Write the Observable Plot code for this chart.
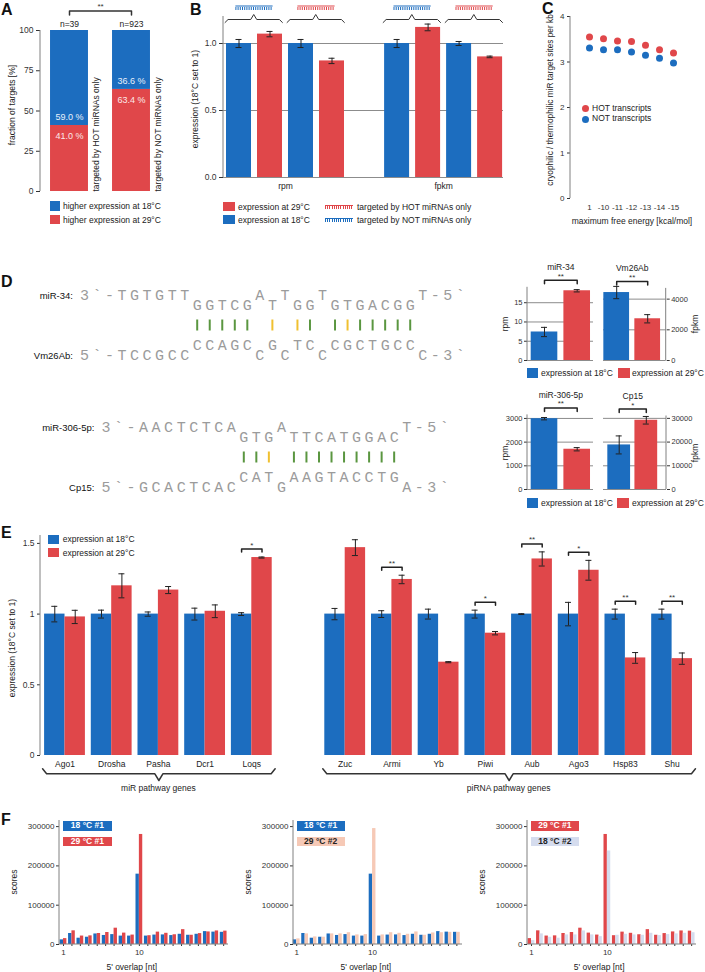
<!DOCTYPE html>
<html>
<head>
<meta charset="utf-8">
<script src="https://cdn.jsdelivr.net/npm/d3@7"></script>
<script src="https://cdn.jsdelivr.net/npm/@observablehq/plot@0.6"></script>
<style>
html,body{margin:0;padding:0;background:#fff;}
#root{position:relative;width:705px;height:972px;overflow:hidden;font-family:"Liberation Sans",Arial,sans-serif;color:#222;background:#fff;}
#root svg{position:absolute;}
</style>
</head>
<body>
<div id="root"></div>
<script>
// ================= DATA =================
// Panel A
const aGroups = ["targeted by HOT miRNAs only", "targeted by NOT miRNAs only"];
const aCounts = ["n=39", "n=923"];
const aPct29 = [41.0, 63.4];
const aPct18 = [59.0, 36.6];
const aTicks = [0, 25, 50, 75, 100];
const aSig = "**";

// Panel B  (order: rpm-NOT, rpm-HOT, fpkm-NOT, fpkm-HOT)
const bMeasures = ["rpm", "fpkm"];
const bTargets = ["NOT", "HOT"];
const bVal18 = [1.00, 1.00, 1.00, 1.00];
const bErr18 = [0.03, 0.03, 0.03, 0.015];
const bVal29 = [1.07, 0.87, 1.12, 0.90];
const bErr29 = [0.02, 0.02, 0.025, 0.006];
const bTicks = [0, 0.5, 1.0];

// Panel C
const cEnergies = ["1", "-10", "-11", "-12", "-13", "-14", "-15"];
const cHot = [3.55, 3.51, 3.46, 3.45, 3.37, 3.27, 3.20];
const cNot = [3.31, 3.27, 3.27, 3.22, 3.15, 3.08, 2.98];
const cTicks = [0, 1, 2, 3, 4];

// Panel D alignments (rows: miRNA upper, miRNA lower, pairing, target upper, target lower)
const dAlign1 = {start: -9, mi: "miR-34:", tg: "Vm26Ab:", rows: [
  "3`-TGTGTT     A T  T       T-5`",
  "         GGTCG T GG GTGACGG    ",
  "         ||||| : :| |:|||||    ",
  "         CCAGC G TC CGCTGCC    ",
  "5`-TCCGCC     C C  C       C-3`"]};
const dAlign2 = {start: -11, mi: "miR-306-5p:", tg: "Cp15:", rows: [
  "3`-AACTCTCA   A         T-5`",
  "           GTG TTCATGGAC    ",
  "           ||: |||||||||    ",
  "           CAT AAGTACCTG    ",
  "5`-GCACTCAC   G         A-3`"]};
// Panel D bar charts
const dGenes = ["miR-34", "Vm26Ab", "miR-306-5p", "Cp15"];
const dUnits = ["rpm", "fpkm", "rpm", "fpkm"];
const d18 = [7.4, 4430, 2990, 18800];
const d18Err = [1.2, 400, 50, 3800];
const d29 = [18.1, 2720, 1700, 29200];
const d29Err = [0.3, 270, 70, 1600];
const dSig = ["**", "**", "**", "*"];
const dTicks = [[0, 5, 10, 15], [0, 2000, 4000], [0, 1000, 2000, 3000], [0, 10000, 20000, 30000]];

// Panel E
const eGenes = ["Ago1", "Drosha", "Pasha", "Dcr1", "Loqs", "Zuc", "Armi", "Yb", "Piwi", "Aub", "Ago3", "Hsp83", "Shu"];
const eGroupOf = [0, 0, 0, 0, 0, 1, 1, 1, 1, 1, 1, 1, 1];
const eGroupNames = ["miR pathway genes", "piRNA pathway genes"];
const e18 = [1, 1, 1, 1, 1, 1, 1, 1, 1, 1, 1, 1, 1];
const e18Err = [0.055, 0.028, 0.015, 0.042, 0.01, 0.04, 0.024, 0.035, 0.028, 0.003, 0.083, 0.035, 0.035];
const e29 = [0.98, 1.20, 1.17, 1.02, 1.40, 1.47, 1.245, 0.66, 0.865, 1.39, 1.31, 0.69, 0.685];
const e29Err = [0.047, 0.085, 0.025, 0.045, 0.004, 0.056, 0.03, 0.004, 0.012, 0.05, 0.07, 0.038, 0.04];
const eSig = ["", "", "", "", "*", "", "**", "", "*", "**", "*", "**", "**"];
const eTicks = [0, 0.5, 1, 1.5];

// Panel F
const fOverlap = [1, 2, 3, 4, 5, 6, 7, 8, 9, 10, 11, 12, 13, 14, 15, 16, 17, 18, 19, 20];
const fLabeled = [1, 10];
const fTicksY = [0, 100000, 200000, 300000];
const f18rep1 = [11800, 28000, 16000, 18500, 26800, 23000, 25200, 21400, 21400, 179000, 21400, 24000, 24400, 22700, 26000, 23500, 26000, 32800, 31500, 31000];
const f29rep1 = [15000, 34800, 21500, 22000, 28000, 30500, 41500, 29000, 24000, 280000, 22400, 31500, 28500, 24800, 37800, 23500, 27800, 32000, 34500, 34000];
const f29rep2 = [14300, 27000, 19300, 18500, 27000, 27000, 30000, 24400, 25200, 295000, 24400, 30000, 28500, 26000, 32000, 23500, 29400, 30000, 31000, 31000];
const f18rep2 = [10000, 27000, 18500, 16000, 24400, 24400, 34500, 24400, 20000, 238000, 23500, 26000, 24400, 23500, 28500, 22700, 25200, 27000, 28500, 30000];

// ================= STYLE / HELPERS =================
const BLUE = "#1c6dbf", RED = "#e0474a", PEACH = "#f6c9b6", LAV = "#d5dcee", PINK = "#f4c6c6";
const GREEN = "#5a9640", YELLOW = "#f0c030";
const AXC = "#808080", GRID = "#8c8c8c", INK = "#222";
const FONT = "'Liberation Sans', Arial, Helvetica, sans-serif";
const root = document.getElementById("root");
const css = (fs) => ({fontFamily: FONT, fontSize: fs + "px", color: "#333", background: "transparent", overflow: "visible"});

function mount(fig, x, y) { fig.style.position = "absolute"; fig.style.left = x + "px"; fig.style.top = y + "px"; fig.style.maxWidth = "none"; root.appendChild(fig); return fig; }
function seg(fig, x1, y1, x2, y2, stroke = AXC) {
  d3.select(fig).append("line").attr("x1", x1).attr("y1", y1).attr("x2", x2).attr("y2", y2)
    .attr("stroke", stroke).attr("stroke-width", 1);
}
function txt(s, x, cy, o = {}) {
  const d = document.createElement("div");
  d.textContent = s;
  const size = o.size || 8.5;
  const tx = o.anchor === "middle" ? "-50%" : o.anchor === "end" ? "-100%" : "0";
  d.style.cssText = `position:absolute;left:${x}px;top:${cy}px;font-size:${size}px;line-height:1;white-space:nowrap;color:${o.color || "#222"};font-weight:${o.weight || "normal"};transform:translate(${tx},-50%)${o.rotate ? " rotate(" + o.rotate + "deg)" : ""};`;
  root.appendChild(d); return d;
}
function box(x, y, w, h, color, text, tcolor) {
  const d = document.createElement("div");
  d.style.cssText = `position:absolute;left:${x}px;top:${y}px;width:${w}px;height:${h}px;background:${color};font-size:8.5px;font-weight:bold;color:${tcolor || "#fff"};text-align:center;line-height:${h}px;white-space:nowrap;`;
  if (text) d.textContent = text;
  root.appendChild(d); return d;
}
function dot(cx, cy, r, color) {
  const d = document.createElement("div");
  d.style.cssText = `position:absolute;left:${cx - r}px;top:${cy - r}px;width:${2 * r}px;height:${2 * r}px;border-radius:50%;background:${color};`;
  root.appendChild(d);
}
function comb(x, y, w, color) {
  const d = document.createElement("div");
  d.style.cssText = `position:absolute;left:${x}px;top:${y}px;width:${w}px;height:3px;border-top:1px solid ${color};background:repeating-linear-gradient(90deg, ${color} 0 1px, transparent 1px 2.2px);`;
  root.appendChild(d);
}
function bracePts(id, x1, x2, y, hook, tip, dx) {
  const m = (x1 + x2) / 2;
  return [[x1, y + hook], [x1 + dx, y], [m - dx, y], [m, y + tip], [m + dx, y], [x2 - dx, y], [x2, y + hook]]
    .map(([x, yy]) => ({id, x, y: yy}));
}

// Panel letters
[["A", 1, 9.5], ["B", 190, 9.5], ["C", 542, 9], ["D", 1, 282], ["E", 1, 532.5], ["F", 1, 819.5]]
  .forEach(([s, x, y]) => txt(s, x, y, {size: 16, weight: "bold", color: "#111"}));

// ================= PANEL A =================
{
  const bars = aGroups.flatMap((g, i) => [
    {g: i, y1: 0, y2: aPct29[i], fill: RED},
    {g: i, y1: aPct29[i], y2: aPct29[i] + aPct18[i], fill: BLUE}]);
  const idx = aGroups.map((g, i) => ({i, g, n: aCounts[i], p18: aPct18[i], p29: aPct29[i]}));
  const upp = 100 / 161;
  const yb = 100 + 19.5 * upp;
  const br = [{x: 0, y: yb - 4 * upp}, {x: 0, y: yb}, {x: 1, y: yb}, {x: 1, y: yb - 4 * upp}];
  const fig = Plot.plot({
    width: 190, height: 240, marginLeft: 40, marginRight: 0, marginTop: 30, marginBottom: 49,
    style: css(8.5),
    x: {type: "linear", domain: [0, 1], range: [69, 131], axis: null},
    y: {domain: [0, 100], range: [191, 30]},
    marks: [
      Plot.rectY(bars, {x1: d => d.g - 0.306, x2: d => d.g + 0.306, y1: "y1", y2: "y2", fill: "fill"}),
      Plot.axisY({ticks: aTicks, tickSize: 4, tickPadding: 3, tickFormat: d => String(d), label: null}),
      Plot.text(idx, {x: "i", y: "p29", dy: -8, text: d => d.p18.toFixed(1) + " %", fill: "#e8f0fb", fontSize: 9}),
      Plot.text(idx, {x: "i", y: "p29", dy: 11, text: d => d.p29.toFixed(1) + " %", fill: "#fbe9e9", fontSize: 9}),
      Plot.text(idx, {x: d => d.i + 0.435, y: 0, text: "g", rotate: -90, textAnchor: "start", fontSize: 8.5, fill: "#222"}),
      Plot.text(idx, {x: "i", y: 100, dy: -6, text: "n", fontSize: 8.5, fill: "#222"}),
      Plot.line(br, {x: "x", y: "y", stroke: "#333"}),
      Plot.text([aSig], {x: (0 + 1) / 2, y: yb, dy: -5, text: d => d, fontSize: 8})
    ]
  });
  mount(fig, 0, 0);
  seg(fig, 40, 30, 40, 191);
  txt("fraction of targets [%]", 12, 105, {anchor: "middle", rotate: -90});
  box(50, 201, 10, 10, BLUE); txt("higher expression at 18°C", 63, 206);
  box(50, 215, 10, 9, RED); txt("higher expression at 29°C", 63, 219.5);
}

// ================= PANEL B =================
{
  const GAP = 5.1, upp = 1 / 134, half = 0.403, cap = 3 / 31;
  const bars = [], braces = [], combs = [];
  bMeasures.forEach((m, mi) => bTargets.forEach((t, ti) => {
    const k = mi * 2 + ti, base = mi * GAP + ti * 2;
    bars.push({slot: base, v: bVal18[k], e: bErr18[k], fill: BLUE});
    bars.push({slot: base + 1, v: bVal29[k], e: bErr29[k], fill: RED});
    braces.push(...bracePts(k, base - 0.45, base + 1.4, 1 + 24 * upp, -3 * upp, 5 * upp, 3 / 31));
    combs.push({x1: base + 0.5 - 0.6, x2: base + 0.5 + 0.6, color: t === "HOT" ? RED : BLUE});
  }));
  const labels = bMeasures.map((m, mi) => ({m, x: mi * GAP + 1.5}));
  const fig = Plot.plot({
    width: 330, height: 195, marginLeft: 43, marginRight: 7, marginTop: 16, marginBottom: 18,
    style: css(8.5),
    x: {type: "linear", domain: [0, 1], range: [58.5, 89.5], axis: null},
    y: {domain: [0, 1], range: [177, 43]},
    marks: [
      Plot.gridY({ticks: bTicks, stroke: GRID, strokeOpacity: 1}),
      Plot.rectY(bars, {x1: d => d.slot - half, x2: d => d.slot + half, y1: 0, y2: "v", fill: "fill"}),
      Plot.ruleX(bars, {x: "slot", y1: d => d.v - d.e, y2: d => d.v + d.e, stroke: INK}),
      Plot.ruleY(bars, {y: d => d.v - d.e, x1: d => d.slot - cap, x2: d => d.slot + cap, stroke: INK}),
      Plot.ruleY(bars, {y: d => d.v + d.e, x1: d => d.slot - cap, x2: d => d.slot + cap, stroke: INK}),
      Plot.axisY({ticks: bTicks, tickSize: 4, tickPadding: 3, tickFormat: d => d.toFixed(1), label: null}),
      Plot.line(braces, {x: "x", y: "y", z: "id", stroke: "#333", strokeWidth: 1}),
      Plot.ruleY(combs, {y: 1 + 37.5 * upp, x1: "x1", x2: "x2", stroke: "color", strokeWidth: 1}),
      Plot.ruleY(combs, {y: 1 + 35 * upp, x1: "x1", x2: "x2", stroke: "color", strokeWidth: 3, strokeDasharray: "1,1.2"}),
      Plot.text(labels, {x: "x", y: 0, dy: 9, text: "m", fontSize: 8.5, fill: "#222"})
    ]
  });
  mount(fig, 180, 0);
  seg(fig, 43, 16, 43, 177);
  txt("expression (18°C set to 1)", 195, 99, {anchor: "middle", rotate: -90});
  box(223, 202, 12, 9, RED); txt("expression at 29°C", 238, 206.5);
  box(223, 215, 12, 9, BLUE); txt("expression at 18°C", 238, 219.5);
  comb(325, 205, 28, RED); txt("targeted by HOT miRNAs only", 357, 206.5);
  comb(325, 218, 28, BLUE); txt("targeted by NOT miRNAs only", 357, 219.5);
}

// ================= PANEL C =================
{
  const pts = cEnergies.flatMap((e, i) => [{e, v: cHot[i], fill: RED}, {e, v: cNot[i], fill: BLUE}]);
  const fig = Plot.plot({
    width: 205, height: 232, marginLeft: 70, marginRight: 0, marginTop: 16, marginBottom: 34,
    style: css(8),
    x: {type: "point", domain: cEnergies, range: [80, 181]},
    y: {domain: [0, 4], range: [198, 16]},
    marks: [
      Plot.axisY({ticks: cTicks, tickSize: 3, tickPadding: 3, tickFormat: d => String(d), label: null}),
      Plot.axisX({tickSize: 0, tickPadding: 6, label: null}),
      Plot.dot(pts, {x: "e", y: "v", fill: "fill", r: 3.5})
    ]
  });
  mount(fig, 500, 0);
  seg(fig, 70, 16, 70, 198);
  txt("cryophilic / thermophilic miR target sites per kb", 550, 100, {anchor: "middle", rotate: -90, size: 8.3});
  txt("maximum free energy [kcal/mol]", 632, 220.5, {anchor: "middle"});
  dot(585, 108.3, 3.5, RED); txt("HOT transcripts", 592, 107.8);
  dot(585, 119, 3.5, BLUE); txt("NOT transcripts", 592, 118.3);
}

// ================= PANEL D : alignments =================
function drawAlignment(al, row0Abs, originAbs) {
  const rowLevel = [0, 1, 3, 5, 6];
  const chars = [], pairs = [];
  al.rows.forEach((s, r) => {
    [...s].forEach((ch, k) => {
      if (ch === " ") return;
      const rec = {i: al.start + k, ch, y: rowLevel[r]};
      if (r === 2) pairs.push(rec); else chars.push(rec);
    });
  });
  const labels = [{t: al.mi, y: rowLevel[0]}, {t: al.tg, y: rowLevel[4]}];
  const fig = Plot.plot({
    width: 480, height: 90, margin: 0, style: css(10),
    x: {type: "linear", domain: [0, 1], range: [originAbs, originAbs + 12.53], axis: null},
    y: {domain: [0, 6], range: [15, 75], axis: null},
    marks: [
      Plot.ruleX(pairs, {x: "i", y1: 2.45, y2: 3.55, stroke: d => d.ch === ":" ? YELLOW : GREEN, strokeWidth: 2}),
      Plot.text(chars, {x: "i", y: "y", text: "ch", fontFamily: "'Liberation Mono', 'DejaVu Sans Mono', monospace", fontSize: 15, fill: "#9b9b9b"}),
      Plot.text(labels, {x: al.start - 1, y: "y", dx: 1, text: "t", textAnchor: "end", fontSize: 9.5, fill: "#111"})
    ]
  });
  mount(fig, 0, row0Abs - 15);
}
drawAlignment(dAlign1, 295, 196.7);
drawAlignment(dAlign2, 426.7, 243.3);

// ================= PANEL D : mini bar charts =================
function drawMini(o) {
  const i = o.i;
  const upp = o.dom / (98 - o.rTop);
  const bars = [{x: 0, v: d18[i], e: d18Err[i], fill: BLUE}, {x: 1, v: d29[i], e: d29Err[i], fill: RED}];
  const cap = 3 / (o.c1 - o.c0);
  const yTop = o.dom + 7 * upp;
  const br = [{x: 0, y: yTop - 3.5 * upp}, {x: 0, y: yTop}, {x: 1, y: yTop}, {x: 1, y: yTop - 3.5 * upp}];
  const fig = Plot.plot({
    width: o.width, height: 104, marginLeft: o.mL, marginRight: o.mR, marginTop: o.rTop, marginBottom: 6,
    style: css(7.5),
    x: {type: "linear", domain: [0, 1], range: [o.c0, o.c1], axis: null},
    y: {domain: [0, o.dom], range: [98, o.rTop]},
    marks: [
      Plot.gridY({ticks: dTicks[i], stroke: GRID, strokeOpacity: 1}),
      Plot.rectY(bars, {x1: d => d.x - o.half, x2: d => d.x + o.half, y1: 0, y2: "v", fill: "fill"}),
      Plot.ruleX(bars, {x: "x", y1: d => d.v - d.e, y2: d => d.v + d.e, stroke: INK}),
      Plot.ruleY(bars, {y: d => d.v - d.e, x1: d => d.x - cap, x2: d => d.x + cap, stroke: INK}),
      Plot.ruleY(bars, {y: d => d.v + d.e, x1: d => d.x - cap, x2: d => d.x + cap, stroke: INK}),
      Plot.axisY({anchor: o.anchor, ticks: dTicks[i], tickSize: 3, tickPadding: 2, tickFormat: d => String(d), label: null}),
      Plot.line(br, {x: "x", y: "y", stroke: INK}),
      Plot.text([dSig[i]], {x: 0.5, y: yTop, dy: -4, text: d => d, fontSize: 8}),
      Plot.text([dGenes[i]], {x: 0.5, y: yTop, dy: -13, text: d => d, fontSize: 8.5, fill: "#222"})
    ]
  });
  mount(fig, o.left, o.top);
  const ax = o.anchor === "left" ? o.mL : o.width - o.mR;
  seg(fig, ax, o.rTop, ax, 98);
  const ux = o.anchor === "left" ? o.left + o.mL - 22 : o.left + o.width - o.mR + 29;
  txt(dUnits[i], ux, o.top + 62, {anchor: "middle", rotate: -90});
}
drawMini({i: 0, left: 490, top: 262, width: 112, mL: 37, mR: 9, anchor: "left", dom: 19, rTop: 24.8, c0: 54, c1: 86.7, half: 0.407});
drawMini({i: 1, left: 595, top: 262, width: 110, mL: 8, mR: 39.3, anchor: "right", dom: 4700, rTop: 25.9, c0: 21.2, c1: 52.2, half: 0.415});
drawMini({i: 2, left: 490, top: 391, width: 112, mL: 37, mR: 9, anchor: "left", dom: 3150, rTop: 23.4, c0: 54, c1: 86.7, half: 0.407});
drawMini({i: 3, left: 595, top: 391, width: 110, mL: 8, mR: 39, anchor: "right", dom: 31000, rTop: 24.5, c0: 23.7, c1: 50.8, half: 0.42});
box(527, 368, 11, 10, BLUE); txt("expression at 18°C", 541, 373);
box(618, 368, 12, 10, RED); txt("expression at 29°C", 632, 373);
box(527, 498, 11, 10, BLUE); txt("expression at 18°C", 541, 503);
box(617, 498, 12, 10, RED); txt("expression at 29°C", 632, 503);

// ================= PANEL E =================
{
  const upp = 1 / 141.4, half = 0.437, cap = 3 / 46.7;
  const rows = eGenes.map((g, i) => ({g, grp: eGroupOf[i], slot: i + eGroupOf[i], v18: e18[i], s18: e18Err[i], v29: e29[i], s29: e29Err[i], sig: eSig[i]}));
  const bars = rows.flatMap(r => [
    {x1: r.slot - half, x2: r.slot, xc: r.slot - half / 2, v: r.v18, e: r.s18, fill: BLUE},
    {x1: r.slot, x2: r.slot + half, xc: r.slot + half / 2, v: r.v29, e: r.s29, fill: RED}]);
  const sigRows = rows.filter(r => r.sig).map(r => ({...r, top: Math.max(r.v18 + r.s18, r.v29 + r.s29) + 8 * upp}));
  const sigPts = sigRows.flatMap(r => [
    {id: r.g, x: r.slot - half / 2, y: r.top - 3 * upp}, {id: r.g, x: r.slot - half / 2, y: r.top},
    {id: r.g, x: r.slot + half / 2, y: r.top}, {id: r.g, x: r.slot + half / 2, y: r.top - 3 * upp}]);
  const groups = eGroupNames.map((name, k) => {
    const s = rows.filter(r => r.grp === k).map(r => r.slot);
    return {name, k, x1: d3.min(s) - 0.48, x2: d3.max(s) + 0.5, mid: (d3.min(s) + d3.max(s)) / 2};
  });
  const bracePath = groups.flatMap(g => bracePts(g.k, g.x1, g.x2, -18.3 * upp, 5 * upp, -6.7 * upp, 4 / 46.7));
  const fig = Plot.plot({
    width: 705, height: 270, marginLeft: 40, marginRight: 0, marginTop: 5, marginBottom: 45,
    style: css(8.5),
    x: {type: "linear", domain: [0, 1], range: [64.5, 111.2], axis: null},
    y: {domain: [0, 1], range: [225, 83.6]},
    marks: [
      Plot.rectY(bars, {x1: "x1", x2: "x2", y1: 0, y2: "v", fill: "fill"}),
      Plot.ruleX(bars, {x: "xc", y1: d => d.v - d.e, y2: d => d.v + d.e, stroke: INK}),
      Plot.ruleY(bars, {y: d => d.v - d.e, x1: d => d.xc - cap, x2: d => d.xc + cap, stroke: INK}),
      Plot.ruleY(bars, {y: d => d.v + d.e, x1: d => d.xc - cap, x2: d => d.xc + cap, stroke: INK}),
      Plot.axisY({ticks: eTicks, tickSize: 3, tickPadding: 3, tickFormat: d => String(d), label: null}),
      Plot.line(sigPts, {x: "x", y: "y", z: "id", stroke: INK}),
      Plot.text(sigRows, {x: "slot", y: "top", dy: -4, text: "sig", fontSize: 8}),
      Plot.text(rows, {x: "slot", y: 0, dy: 9, text: "g", fontSize: 8.5, fill: "#222"}),
      Plot.line(bracePath, {x: "x", y: "y", z: "id", stroke: "#333"}),
      Plot.text(groups, {x: "mid", y: -33 * upp, text: "name", fontSize: 8.5, fill: "#222"})
    ]
  });
  mount(fig, 0, 530);
  seg(fig, 40, 5, 40, 225);
  txt("expression (18°C set to 1)", 12, 648, {anchor: "middle", rotate: -90});
  box(48.3, 535, 10.7, 8.5, BLUE); txt("expression at 18°C", 62.7, 539.3);
  box(48.3, 548.3, 10.7, 8.5, RED); txt("expression at 29°C", 62.7, 552.7);
}

// ================= PANEL F =================
function drawF(axisAbs, pair1Abs, A, B, colA, colB, labA, labB) {
  const left = axisAbs - 60, rel1 = pair1Abs - left;
  const bars = fOverlap.flatMap((n, i) => [
    {x1: n - 0.4, x2: n, v: A[i], fill: colA[0]},
    {x1: n, x2: n + 0.4, v: B[i], fill: colB[0]}]);
  const fig = Plot.plot({
    width: 229, height: 157, marginLeft: 60, marginRight: 0, marginTop: 5, marginBottom: 28,
    style: css(8),
    x: {type: "linear", domain: [1, 2], range: [rel1, rel1 + 8.43]},
    y: {domain: [0, 300000], range: [129, 11.1]},
    marks: [
      Plot.rectY(bars, {x1: "x1", x2: "x2", y1: 0, y2: "v", fill: "fill"}),
      Plot.axisY({ticks: fTicksY, tickSize: 3, tickPadding: 2, tickFormat: d => String(d), label: null}),
      Plot.axisX({ticks: fOverlap, tickSize: 2, tickPadding: 3, tickFormat: d => fLabeled.includes(d) ? String(d) : "", label: null})
    ]
  });
  mount(fig, left, 815);
  seg(fig, 60, 5, 60, 129);
  seg(fig, 60, 129, 229, 129);
  box(pair1Abs, 821, 48.3, 9.7, colA[0], labA, colA[1]);
  box(pair1Abs, 836.7, 48.3, 9.7, colB[0], labB, colB[1]);
  txt("scores", axisAbs - 45, 882, {anchor: "middle", rotate: -90});
  txt("5' overlap [nt]", axisAbs + 72.5, 966.7, {anchor: "middle"});
}
drawF(59.3, 63.3, f18rep1, f29rep1, [BLUE, "#fff"], [RED, "#fff"], "18 °C #1", "29 °C #1");
drawF(293.3, 296.5, f18rep1, f29rep2, [BLUE, "#fff"], [PEACH, "#222"], "18 °C #1", "29 °C #2");
drawF(526.7, 530.7, f29rep1, f18rep2, [RED, "#fff"], [LAV, "#222"], "29 °C #1", "18 °C #2");
</script>
</body>
</html>
